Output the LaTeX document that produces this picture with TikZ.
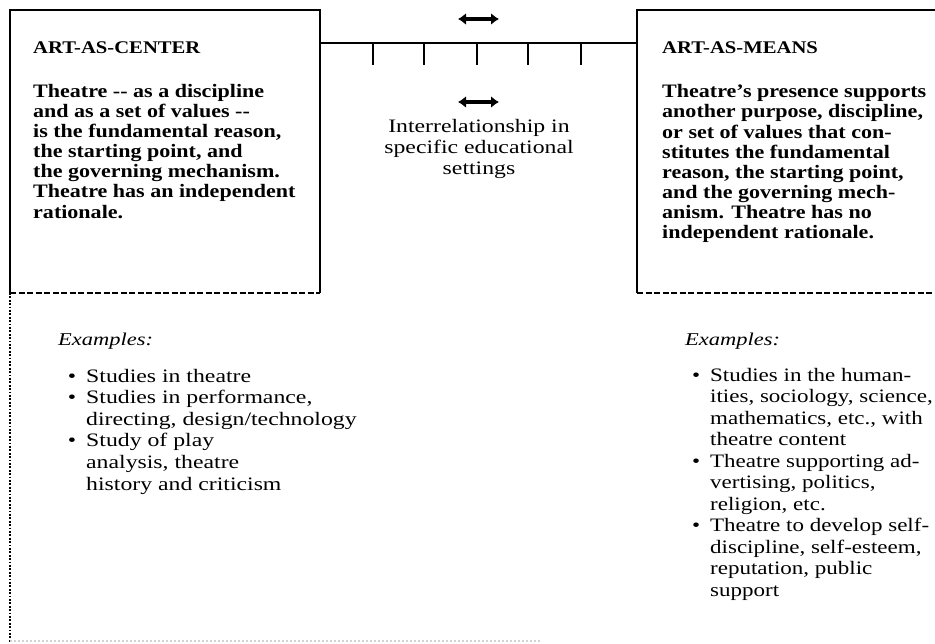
\documentclass[tikz,border=0pt]{standalone}
\usepackage{fontspec}
\setmainfont{Liberation Serif}
\newfontfamily\bfam{Liberation Serif}[FakeStretch=1.16]
\newfontfamily\rfam{Liberation Serif}[FakeStretch=1.25]
\newfontfamily\rfamn{Liberation Serif}[FakeStretch=1.21]
\usetikzlibrary{arrows.meta}
\newcommand{\bul}{\llap{\textbullet\hspace{10pt}}}
\begin{document}
\begin{tikzpicture}[x=1pt,y=-1pt,
  frame/.style={line width=2.8pt, line join=miter},
  dashedge/.style={line width=2.6pt, dash pattern=on 6pt off 2.5pt},
  dotedge/.style={line width=2.8pt, dash pattern=on 1.8pt off 1.6pt},
  faintedge/.style={line width=1.5pt, gray!35, dash pattern=on 2pt off 2pt},
  tickmark/.style={line width=2.2pt},
  dblarrow/.style={line width=3.4pt, {Latex[length=8pt,width=12pt]}-{Latex[length=8pt,width=12pt]}},
  titletext/.style={anchor=base west, inner sep=0pt, font=\bfam\bfseries\fontsize{17.8}{20}\selectfont},
  bodytext/.style={anchor=base west, inner sep=0pt, align=left, font=\bfam\bfseries\fontsize{19}{20.1}\selectfont},
  midtext/.style={anchor=base, inner sep=0pt, align=center, font=\rfam\fontsize{19}{21}\selectfont},
  exhead/.style={anchor=base west, inner sep=0pt, font=\rfam\itshape\fontsize{18}{21}\selectfont},
  extext/.style={anchor=base west, inner sep=0pt, align=left, font=\rfam\fontsize{19}{21.6}\selectfont},
  extextn/.style={anchor=base west, inner sep=0pt, align=left, font=\rfamn\fontsize{19}{21.5}\selectfont}
]
\useasboundingbox (0,0) rectangle (935,643);
\fill[white] (0,0) rectangle (935,643);

% left box corners
\coordinate (LTL) at (10,10);
\coordinate (LTR) at (320,10);
\coordinate (LBR) at (320,293);
\coordinate (LBL) at (10,293);
\coordinate (LEND) at (10,643);
\coordinate (BEND) at (540,641);
\coordinate (BSTART) at (10,641);
% right box corners
\coordinate (RTL) at (637,10);
\coordinate (RTR) at (937,10);
\coordinate (RBL) at (637,293);
\coordinate (RBR) at (937,293);

\draw[frame] (LBL) -- (LTL) -- (LTR) -- (LBR);
\draw[dashedge] (LBL) -- (LBR);
\draw[dotedge] (LBL) -- (LEND);
\draw[faintedge] (BSTART) -- (BEND);

\draw[frame] (RTR) -- (RTL) -- (RBL);
\draw[dashedge] (RBL) -- (RBR);

% connector with ticks
\coordinate (CL) at (320,43);
\coordinate (CR) at (637,43);
\draw[line width=2.8pt] (CL) -- (CR);
\foreach \tx/\nm in {373/t1,424/t2,477/t3,528/t4,581/t5}{
  \coordinate (\nm a) at (\tx,43);
  \coordinate (\nm b) at (\tx,65);
  \draw[tickmark] (\nm a) -- (\nm b);
}

% arrows
\coordinate (A1L) at (458,19);
\coordinate (A1R) at (499,19);
\coordinate (A2L) at (458,102);
\coordinate (A2R) at (499,102);
\draw[dblarrow] (A1L) -- (A1R);
\draw[dblarrow] (A2L) -- (A2R);

% multi-line nodes: base anchor sits on the last line
\node[midtext] (mid) at (479,174) {Interrelationship in\\specific educational\\settings};

% left text
\node[titletext] (lt) at (33,53) {ART-AS-CENTER};
\node[bodytext] (lb) at (33,218) {Theatre -{}- as a discipline\\and as a set of values -{}-\\is the fundamental reason,\\the starting point, and\\the governing mechanism.\\Theatre has an independent\\rationale.};

% right text
\node[titletext] (rt) at (662,53) {ART-AS-MEANS};
\node[bodytext] (rb) at (662,238.5) {Theatre’s presence supports\\another purpose, discipline,\\or set of values that con-\\stitutes the fundamental\\reason, the starting point,\\and the governing mech-\\anism. Theatre has no\\independent rationale.};

% examples
\node[exhead] (le) at (58,345) {Examples:};
\node[extext] (ll) at (86,490) {\bul Studies in theatre\\\bul Studies in performance,\\directing, design/technology\\\bul Study of play\\analysis, theatre\\history and criticism};

\node[exhead] (re) at (685,345) {Examples:};
\node[extextn] (rl) at (710,596) {\bul Studies in the human-\\ities, sociology, science,\\mathematics, etc., with\\theatre content\\\bul Theatre supporting ad-\\vertising, politics,\\religion, etc.\\\bul Theatre to develop self-\\discipline, self-esteem,\\reputation, public\\support};
\end{tikzpicture}
\end{document}
